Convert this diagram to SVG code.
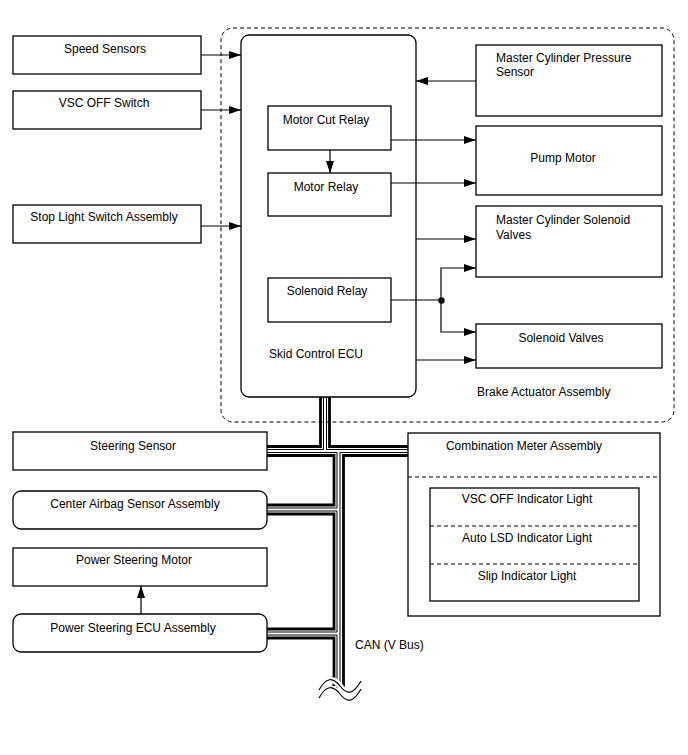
<svg xmlns="http://www.w3.org/2000/svg" width="688" height="755" viewBox="0 0 688 755">
<style>
text{font-family:"Liberation Sans",Arial,sans-serif;font-size:12px;fill:#000}
.c{text-anchor:middle}
.box{fill:#fff;stroke:#000;stroke-width:1.3}
.dash{fill:none;stroke:#000;stroke-width:1;stroke-dasharray:4 3}
.ln{fill:none;stroke:#000;stroke-width:1.2}
.bk{fill:none;stroke:#000;stroke-width:2.8;stroke-linejoin:miter}
.bn{fill:none;stroke:#000;stroke-width:1}
</style>
<defs>
<marker id="ah" viewBox="0 0 12 8" refX="12" refY="4" markerWidth="12" markerHeight="8" markerUnits="userSpaceOnUse" orient="auto">
<path d="M0,0 L12,4 L0,8 Z" fill="#000"/>
</marker>
</defs>
<rect width="688" height="755" fill="#fff"/>

<g id="brake-actuator">
<rect x="221" y="28" width="453" height="394" rx="12" class="dash"/>
<text x="477" y="396">Brake Actuator Assembly</text>
</g>

<g id="skid-ecu">
<rect x="241" y="35" width="175" height="362" rx="8" class="box" stroke-width="1.5"/>
<text x="316" y="358" class="c">Skid Control ECU</text>
</g>
<g id="motor-cut-relay">
<rect x="268" y="106" width="123" height="44" class="box"/>
<text x="326" y="124" class="c">Motor Cut Relay</text>
</g>
<g id="motor-relay">
<rect x="268" y="173" width="123" height="43" class="box"/>
<text x="326" y="191" class="c">Motor Relay</text>
</g>
<g id="solenoid-relay">
<rect x="268" y="278" width="123" height="44" class="box"/>
<text x="327" y="295" class="c">Solenoid Relay</text>
</g>

<g id="speed-sensors">
<rect x="13" y="36" width="188" height="38" class="box"/>
<text x="105" y="53" class="c">Speed Sensors</text>
</g>
<g id="vsc-off-switch">
<rect x="13" y="91" width="188" height="38" class="box"/>
<text x="104" y="107" class="c">VSC OFF Switch</text>
</g>
<g id="stop-light-switch">
<rect x="13" y="205" width="188" height="38" class="box"/>
<text x="104" y="221" class="c">Stop Light Switch Assembly</text>
</g>

<g id="mc-pressure-sensor">
<rect x="476" y="45" width="186" height="71" class="box"/>
<text x="496" y="62">Master Cylinder Pressure</text>
<text x="496" y="76">Sensor</text>
</g>
<g id="pump-motor">
<rect x="476" y="126" width="186" height="69" class="box"/>
<text x="563" y="162" class="c">Pump Motor</text>
</g>
<g id="mc-solenoid-valves">
<rect x="476" y="206" width="186" height="71" class="box"/>
<text x="496" y="224">Master Cylinder Solenoid</text>
<text x="496" y="239">Valves</text>
</g>
<g id="solenoid-valves">
<rect x="476" y="324" width="186" height="44" class="box"/>
<text x="561" y="342" class="c">Solenoid Valves</text>
</g>

<g id="steering-sensor">
<rect x="13" y="432" width="254" height="38" class="box"/>
<text x="133" y="450" class="c">Steering Sensor</text>
</g>
<g id="center-airbag">
<rect x="13" y="491" width="254" height="38" rx="8" class="box"/>
<text x="135" y="508" class="c">Center Airbag Sensor Assembly</text>
</g>
<g id="ps-motor">
<rect x="13" y="548" width="254" height="38" class="box"/>
<text x="134" y="564" class="c">Power Steering Motor</text>
</g>
<g id="ps-ecu">
<rect x="13" y="614" width="254" height="38" rx="8" class="box"/>
<text x="133" y="632" class="c">Power Steering ECU Assembly</text>
</g>

<g id="combination-meter">
<rect x="408" y="433" width="252" height="183" class="box"/>
<line x1="408" y1="477" x2="660" y2="477" class="dash"/>
<text x="524" y="450" class="c">Combination Meter Assembly</text>
<rect x="430" y="488" width="209" height="113" class="box"/>
<line x1="430" y1="526" x2="639" y2="526" class="dash"/>
<line x1="430" y1="564" x2="639" y2="564" class="dash"/>
<text x="527" y="503" class="c">VSC OFF Indicator Light</text>
<text x="527" y="542" class="c">Auto LSD Indicator Light</text>
<text x="527" y="580" class="c">Slip Indicator Light</text>
</g>

<g id="connectors">
<line x1="201" y1="55" x2="241" y2="55" class="ln" marker-end="url(#ah)"/>
<line x1="201" y1="110" x2="241" y2="110" class="ln" marker-end="url(#ah)"/>
<line x1="201" y1="226" x2="241" y2="226" class="ln" marker-end="url(#ah)"/>
<line x1="476" y1="81" x2="416" y2="81" class="ln" marker-end="url(#ah)"/>
<line x1="330" y1="150" x2="330" y2="173" class="ln" marker-end="url(#ah)"/>
<line x1="391" y1="140" x2="476" y2="140" class="ln" marker-end="url(#ah)"/>
<line x1="391" y1="183" x2="476" y2="183" class="ln" marker-end="url(#ah)"/>
<line x1="416" y1="239" x2="476" y2="239" class="ln" marker-end="url(#ah)"/>
<line x1="391" y1="300" x2="441" y2="300" class="ln"/>
<path d="M441,300 V268 H476" class="ln" marker-end="url(#ah)"/>
<path d="M441,300 V332 H476" class="ln" marker-end="url(#ah)"/>
<circle cx="441.5" cy="300.5" r="3.2" fill="#000"/>
<line x1="416" y1="360" x2="476" y2="360" class="ln" marker-end="url(#ah)"/>
<line x1="141" y1="614" x2="141" y2="586" class="ln" marker-end="url(#ah)"/>

<path d="M320.5,397 V446.5 H267" class="bk"/>
<path d="M329.5,397 V446.5 H408" class="bk"/>
<path d="M267,455.5 H334 V505 H267" class="bk"/>
<path d="M408,455.5 H343.5 V689" class="bk"/>
<path d="M267,514 H334 V629 H267" class="bk"/>
<path d="M267,638 H334 V686" class="bk"/>
<path d="M323.5,397 V449.5 H267" class="bn"/>
<path d="M326.5,397 V449.5 H408" class="bn"/>
<path d="M267,452.5 H337 V508 H267" class="bn"/>
<path d="M408,452.5 H340 V689" class="bn"/>
<path d="M267,511 H337 V632 H267" class="bn"/>
<path d="M267,635 H337 V688" class="bn"/>
<path d="M319,690 C326,677 333,677 340,686 C347,695 353,695 361,681" fill="none" stroke="#fff" stroke-width="6"/>
<path d="M319,690 C326,677 333,677 340,686 C347,695 353,695 361,681" class="ln"/>
<path d="M319,698 C326,685 333,685 340,694 C347,703 353,703 361,689" class="ln"/>
<text x="355" y="649">CAN (V Bus)</text>
</g>
</svg>
